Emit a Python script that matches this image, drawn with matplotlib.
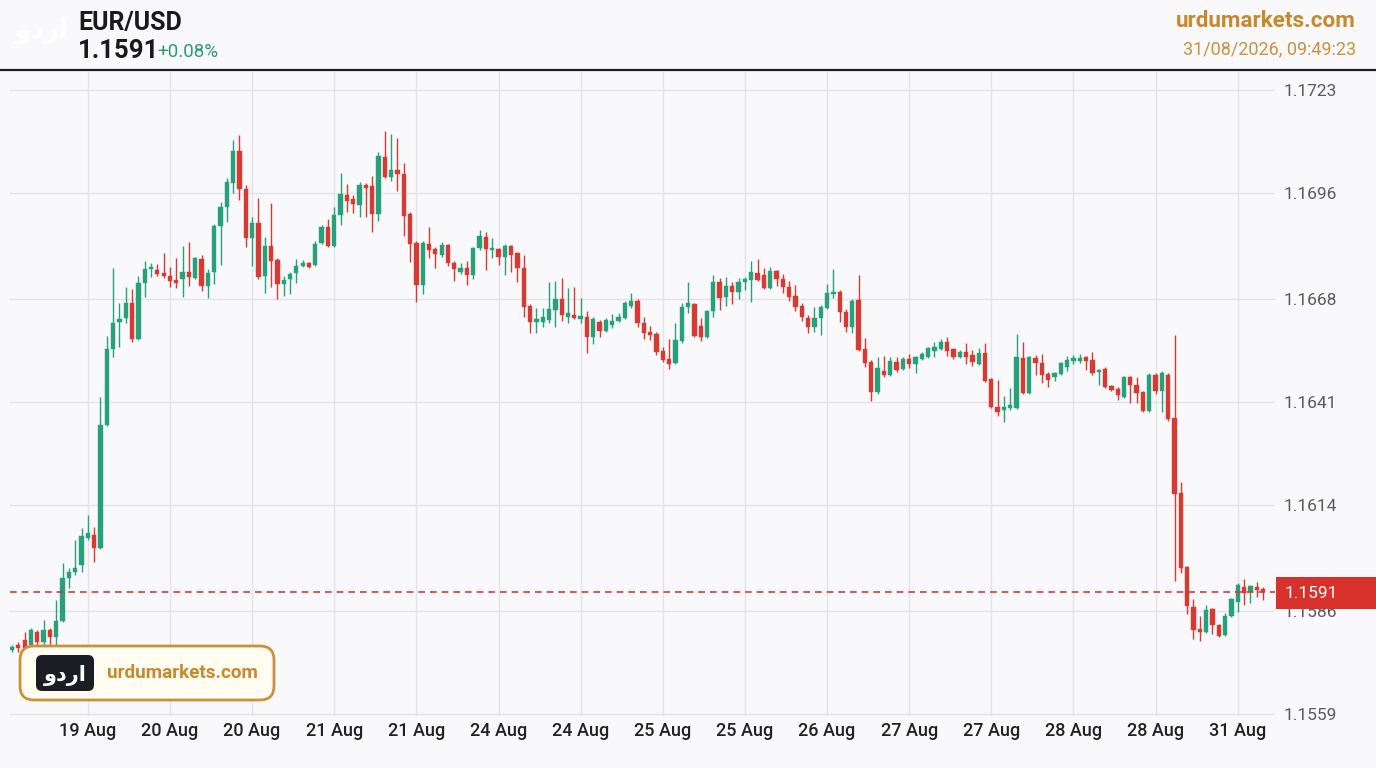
import matplotlib
matplotlib.use("Agg")
import matplotlib.pyplot as plt
import numpy as np
from matplotlib.patches import FancyBboxPatch, Rectangle
from matplotlib.transforms import IdentityTransform

plt.rcParams["font.family"] = ["Roboto", "DejaVu Sans"]

# hourly EUR/USD candles
opens = [
    1.15757, 1.15771, 1.15784, 1.15771, 1.15805, 1.15779, 1.15810, 1.15792, 1.15833, 1.15947,
    1.15963, 1.15981, 1.16052, 1.16060, 1.16026, 1.16349, 1.16549, 1.16620, 1.16631, 1.16670,
    1.16575, 1.16723, 1.16759, 1.16757, 1.16749, 1.16741, 1.16731, 1.16733, 1.16752, 1.16736,
    1.16785, 1.16715, 1.16752, 1.16872, 1.16923, 1.16986, 1.17070, 1.16970, 1.16841, 1.16880,
    1.16741, 1.16820, 1.16783, 1.16720, 1.16733, 1.16749, 1.16767, 1.16775, 1.16770, 1.16828,
    1.16870, 1.16820, 1.16902, 1.16954, 1.16943, 1.16928, 1.16981, 1.16978, 1.16904, 1.17055,
    1.17002, 1.17020, 1.17009, 1.16904, 1.16828, 1.16718, 1.16825, 1.16812, 1.16796, 1.16823,
    1.16775, 1.16752, 1.16762, 1.16744, 1.16815, 1.16844, 1.16809, 1.16812, 1.16791, 1.16820,
    1.16801, 1.16762, 1.16662, 1.16620, 1.16620, 1.16625, 1.16652, 1.16680, 1.16634, 1.16639,
    1.16628, 1.16634, 1.16581, 1.16620, 1.16596, 1.16612, 1.16622, 1.16631, 1.16662, 1.16675,
    1.16617, 1.16594, 1.16588, 1.16544, 1.16523, 1.16512, 1.16570, 1.16660, 1.16667, 1.16610,
    1.16581, 1.16649, 1.16726, 1.16686, 1.16715, 1.16699, 1.16726, 1.16731, 1.16749, 1.16744,
    1.16710, 1.16754, 1.16733, 1.16713, 1.16688, 1.16662, 1.16631, 1.16607, 1.16631, 1.16657,
    1.16693, 1.16699, 1.16647, 1.16607, 1.16678, 1.16549, 1.16515, 1.16436, 1.16491, 1.16481,
    1.16515, 1.16496, 1.16523, 1.16509, 1.16523, 1.16528, 1.16544, 1.16549, 1.16568, 1.16549,
    1.16528, 1.16541, 1.16533, 1.16509, 1.16538, 1.16470, 1.16397, 1.16389, 1.16394, 1.16394,
    1.16525, 1.16433, 1.16525, 1.16512, 1.16483, 1.16476, 1.16483, 1.16502, 1.16518, 1.16518,
    1.16528, 1.16520, 1.16489, 1.16496, 1.16452, 1.16444, 1.16423, 1.16476, 1.16455, 1.16436,
    1.16386, 1.16481, 1.16438, 1.16481, 1.16368, 1.16170, 1.15976, 1.15871, 1.15813, 1.15805,
    1.15865, 1.15823, 1.15797, 1.15847, 1.15884, 1.15923, 1.15910, 1.15923, 1.15918,
]
highs = [
    1.15771, 1.15779, 1.15805, 1.15815, 1.15810, 1.15836, 1.15815, 1.15889, 1.15986, 1.15973,
    1.16047, 1.16078, 1.16113, 1.16081, 1.16423, 1.16583, 1.16762, 1.16670, 1.16713, 1.16707,
    1.16741, 1.16780, 1.16775, 1.16772, 1.16801, 1.16765, 1.16788, 1.16820, 1.16831, 1.16791,
    1.16796, 1.16759, 1.16877, 1.16936, 1.16999, 1.17099, 1.17112, 1.16981, 1.16897, 1.16946,
    1.16844, 1.16933, 1.16788, 1.16741, 1.16752, 1.16785, 1.16783, 1.16778, 1.16833, 1.16875,
    1.16891, 1.16923, 1.17012, 1.16983, 1.16954, 1.16989, 1.16986, 1.17004, 1.17068, 1.17122,
    1.17114, 1.17104, 1.17038, 1.16910, 1.16833, 1.16833, 1.16870, 1.16818, 1.16831, 1.16825,
    1.16780, 1.16775, 1.16780, 1.16818, 1.16862, 1.16857, 1.16841, 1.16815, 1.16825, 1.16823,
    1.16804, 1.16796, 1.16667, 1.16657, 1.16657, 1.16726, 1.16728, 1.16736, 1.16710, 1.16713,
    1.16683, 1.16649, 1.16634, 1.16625, 1.16631, 1.16641, 1.16644, 1.16675, 1.16696, 1.16680,
    1.16634, 1.16610, 1.16594, 1.16555, 1.16575, 1.16617, 1.16670, 1.16726, 1.16670, 1.16631,
    1.16652, 1.16744, 1.16736, 1.16739, 1.16726, 1.16736, 1.16739, 1.16780, 1.16785, 1.16762,
    1.16765, 1.16757, 1.16746, 1.16728, 1.16718, 1.16670, 1.16639, 1.16660, 1.16665, 1.16720,
    1.16759, 1.16704, 1.16654, 1.16680, 1.16744, 1.16578, 1.16520, 1.16528, 1.16530, 1.16528,
    1.16528, 1.16528, 1.16536, 1.16530, 1.16541, 1.16555, 1.16568, 1.16575, 1.16581, 1.16552,
    1.16546, 1.16565, 1.16546, 1.16552, 1.16565, 1.16473, 1.16468, 1.16425, 1.16447, 1.16588,
    1.16568, 1.16530, 1.16533, 1.16536, 1.16489, 1.16489, 1.16515, 1.16530, 1.16533, 1.16536,
    1.16530, 1.16541, 1.16496, 1.16502, 1.16455, 1.16450, 1.16478, 1.16478, 1.16476, 1.16438,
    1.16486, 1.16486, 1.16491, 1.16486, 1.16586, 1.16199, 1.15978, 1.15892, 1.15847, 1.15876,
    1.15868, 1.15826, 1.15855, 1.15894, 1.15934, 1.15944, 1.15929, 1.15936, 1.15923,
]
lows = [
    1.15752, 1.15752, 1.15749, 1.15766, 1.15768, 1.15768, 1.15768, 1.15768, 1.15831, 1.15921,
    1.15955, 1.15963, 1.16047, 1.15989, 1.16023, 1.16346, 1.16528, 1.16555, 1.16617, 1.16568,
    1.16573, 1.16686, 1.16739, 1.16741, 1.16736, 1.16713, 1.16710, 1.16686, 1.16715, 1.16733,
    1.16701, 1.16683, 1.16720, 1.16770, 1.16883, 1.16959, 1.16941, 1.16818, 1.16767, 1.16733,
    1.16696, 1.16713, 1.16680, 1.16688, 1.16693, 1.16723, 1.16765, 1.16762, 1.16767, 1.16825,
    1.16818, 1.16818, 1.16875, 1.16910, 1.16907, 1.16897, 1.16897, 1.16857, 1.16885, 1.16999,
    1.16991, 1.16964, 1.16846, 1.16778, 1.16673, 1.16693, 1.16788, 1.16762, 1.16791, 1.16767,
    1.16728, 1.16746, 1.16718, 1.16733, 1.16809, 1.16757, 1.16788, 1.16770, 1.16744, 1.16752,
    1.16726, 1.16634, 1.16591, 1.16591, 1.16607, 1.16617, 1.16607, 1.16622, 1.16617, 1.16628,
    1.16617, 1.16538, 1.16562, 1.16581, 1.16594, 1.16604, 1.16620, 1.16628, 1.16657, 1.16607,
    1.16575, 1.16573, 1.16533, 1.16515, 1.16496, 1.16509, 1.16565, 1.16644, 1.16581, 1.16570,
    1.16578, 1.16634, 1.16652, 1.16662, 1.16667, 1.16680, 1.16704, 1.16673, 1.16728, 1.16707,
    1.16707, 1.16715, 1.16696, 1.16675, 1.16649, 1.16622, 1.16591, 1.16594, 1.16586, 1.16654,
    1.16683, 1.16620, 1.16594, 1.16591, 1.16544, 1.16502, 1.16412, 1.16430, 1.16476, 1.16478,
    1.16489, 1.16494, 1.16499, 1.16486, 1.16520, 1.16525, 1.16528, 1.16546, 1.16530, 1.16523,
    1.16525, 1.16509, 1.16504, 1.16507, 1.16463, 1.16394, 1.16373, 1.16357, 1.16389, 1.16391,
    1.16430, 1.16430, 1.16481, 1.16460, 1.16450, 1.16465, 1.16481, 1.16491, 1.16509, 1.16512,
    1.16494, 1.16481, 1.16455, 1.16447, 1.16438, 1.16415, 1.16420, 1.16407, 1.16407, 1.16384,
    1.16384, 1.16430, 1.16384, 1.16360, 1.15939, 1.15960, 1.15852, 1.15787, 1.15781, 1.15802,
    1.15800, 1.15792, 1.15794, 1.15844, 1.15858, 1.15876, 1.15881, 1.15897, 1.15889,
]
closes = [
    1.15766, 1.15763, 1.15763, 1.15810, 1.15779, 1.15810, 1.15792, 1.15833, 1.15947, 1.15963,
    1.15973, 1.16057, 1.16065, 1.16026, 1.16349, 1.16549, 1.16617, 1.16628, 1.16670, 1.16575,
    1.16723, 1.16759, 1.16765, 1.16746, 1.16741, 1.16728, 1.16723, 1.16752, 1.16739, 1.16788,
    1.16715, 1.16749, 1.16872, 1.16923, 1.16989, 1.17070, 1.16970, 1.16841, 1.16880, 1.16739,
    1.16820, 1.16780, 1.16720, 1.16731, 1.16746, 1.16767, 1.16775, 1.16765, 1.16825, 1.16870,
    1.16820, 1.16902, 1.16956, 1.16938, 1.16930, 1.16981, 1.16973, 1.16904, 1.17057, 1.17002,
    1.17020, 1.17009, 1.16899, 1.16825, 1.16718, 1.16828, 1.16809, 1.16798, 1.16823, 1.16775,
    1.16759, 1.16762, 1.16744, 1.16815, 1.16846, 1.16812, 1.16815, 1.16791, 1.16820, 1.16796,
    1.16762, 1.16660, 1.16620, 1.16628, 1.16634, 1.16654, 1.16680, 1.16639, 1.16644, 1.16631,
    1.16636, 1.16581, 1.16628, 1.16596, 1.16625, 1.16622, 1.16634, 1.16670, 1.16675, 1.16617,
    1.16591, 1.16586, 1.16541, 1.16520, 1.16509, 1.16573, 1.16660, 1.16670, 1.16583, 1.16581,
    1.16649, 1.16726, 1.16683, 1.16715, 1.16699, 1.16726, 1.16733, 1.16752, 1.16731, 1.16710,
    1.16754, 1.16733, 1.16713, 1.16686, 1.16660, 1.16634, 1.16607, 1.16631, 1.16660, 1.16696,
    1.16699, 1.16647, 1.16607, 1.16675, 1.16546, 1.16512, 1.16436, 1.16499, 1.16481, 1.16518,
    1.16494, 1.16523, 1.16509, 1.16528, 1.16536, 1.16552, 1.16555, 1.16568, 1.16544, 1.16528,
    1.16541, 1.16528, 1.16515, 1.16538, 1.16465, 1.16397, 1.16384, 1.16397, 1.16402, 1.16528,
    1.16433, 1.16528, 1.16512, 1.16481, 1.16468, 1.16486, 1.16512, 1.16520, 1.16525, 1.16525,
    1.16518, 1.16486, 1.16494, 1.16450, 1.16441, 1.16428, 1.16476, 1.16455, 1.16433, 1.16386,
    1.16481, 1.16438, 1.16486, 1.16365, 1.16168, 1.15973, 1.15873, 1.15810, 1.15805, 1.15863,
    1.15823, 1.15794, 1.15847, 1.15892, 1.15929, 1.15907, 1.15926, 1.15915, 1.15910,
]

tick_labels = ["19 Aug", "20 Aug", "20 Aug", "21 Aug", "21 Aug", "24 Aug", "24 Aug",
               "25 Aug", "25 Aug", "26 Aug", "27 Aug", "27 Aug", "28 Aug", "28 Aug", "31 Aug"]
price_ticks = [1.1559, 1.1586, 1.1614, 1.1641, 1.1668, 1.1696, 1.1723]
last_price = 1.1591
change_pct = 0.08
symbol = "EUR/USD"
site = "urdumarkets.com"
stamp = "31/08/2026, 09:49:23"
logo = "اردو"

GREEN = "#26a17a"
RED = "#d63a32"
BG = "#f9f9fb"
GOLD = "#c68a2c"

W, H = 1376, 768
fig = plt.figure(figsize=(W / 100, H / 100), dpi=100, facecolor=BG)
ax = fig.add_axes([10 / W, 1 - 716 / H, 1265 / W, (716 - 72) / H])
ax.set_facecolor(BG)

o = np.array(opens)
c = np.array(closes)
hi = np.array(highs)
lo = np.array(lows)
x = np.arange(len(o))
up = c >= o
cols = np.where(up, GREEN, RED)

ax.vlines(x, lo, hi, colors=cols, lw=1.0, zorder=3)
body_lo = np.minimum(o, c)
body_h = np.maximum(np.abs(c - o), 0.00002)
ax.bar(x, body_h, bottom=body_lo, width=0.68, color=cols, edgecolor=cols, lw=0.3, zorder=4)

ax.axhline(last_price, color=RED, lw=1.2, dashes=(4, 3), zorder=5)

ax.set_xlim(-0.32, 199.9)
ax.set_ylim(1.15584, 1.17278)
ax.set_xticks(np.arange(12, 12 + 13 * len(tick_labels), 13))
ax.set_xticklabels(tick_labels, fontsize=13, color="#222222", fontweight="medium")
ax.set_yticks(price_ticks)
ax.set_yticklabels([f"{p:.4f}" for p in price_ticks], fontsize=12.5, color="#5a5a5a")
ax.yaxis.tick_right()
ax.tick_params(axis="y", length=0, pad=6.5)
ax.tick_params(axis="x", length=0, pad=4)
ax.grid(True, color="#e3e3e7", lw=1.0, zorder=0)
ax.set_axisbelow(True)
for s in ax.spines.values():
    s.set_visible(False)

px = IdentityTransform()

# price tag on the right axis
fig.add_artist(Rectangle((1276, H - 609), 100, 32, transform=px, facecolor="#d8302a",
                         edgecolor="none", zorder=10))
fig.text(1285, H - 593, f"{last_price:.4f}", transform=px, color="white", fontsize=12.5,
         va="center", ha="left", zorder=11)

# header
fig.add_artist(plt.Line2D([0, W], [H - 70, H - 70], transform=px, color="#1e1e1e", lw=1.6))
fig.text(41, H - 31, logo[::-1], transform=px, family=["DejaVu Sans"], fontsize=19,
         fontweight="bold", color="#ffffff", ha="center", va="center")
fig.text(78, H - 30, symbol, transform=px, fontsize=18, fontweight="bold", color="#1a1a1a")
fig.text(78, H - 58, f"{last_price:.4f}", transform=px, fontsize=18.5, fontweight="bold",
         color="#1a1a1a")
fig.text(157, H - 57, f"+{change_pct:.2f}%", transform=px, fontsize=13.5, color="#2a9d6f")
fig.text(1356, H - 27, site, transform=px, fontsize=16.2, fontweight="bold", color=GOLD,
         ha="right")
fig.text(1356, H - 54, stamp, transform=px, fontsize=13, color="#c9923f", ha="right")

# badge bottom-left
fig.add_artist(FancyBboxPatch((20, H - 700), 254, 54, boxstyle="round,pad=0,rounding_size=14",
                              transform=px, facecolor="#fffcf2", edgecolor="#c9923a", lw=2,
                              zorder=10))
fig.add_artist(FancyBboxPatch((36, H - 691), 58, 36, boxstyle="round,pad=0,rounding_size=6",
                              transform=px, facecolor="#1c1d24", edgecolor="none", zorder=11))
fig.text(65, H - 675, logo[::-1], transform=px, family=["DejaVu Sans"], fontsize=15,
         fontweight="bold", color="white", ha="center", va="center", zorder=12)
fig.text(107, H - 673, site, transform=px, fontsize=13.6, fontweight="bold", color=GOLD,
         ha="left", va="center", zorder=12)

fig.savefig("out.png", dpi=100, facecolor=BG)
